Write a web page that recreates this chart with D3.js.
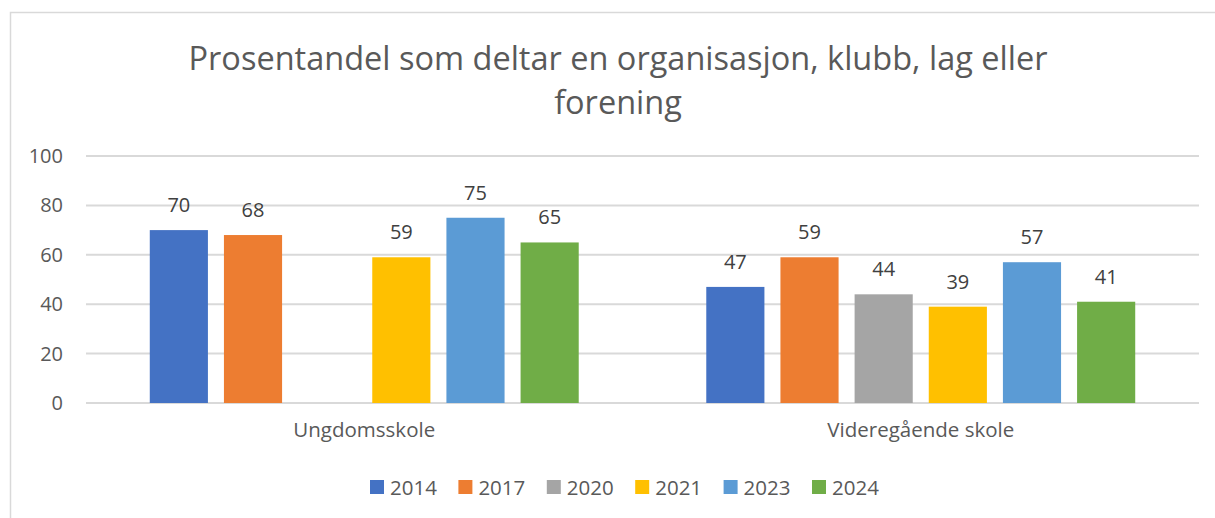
<!DOCTYPE html>
<html>
<head>
<meta charset="utf-8">
<script src="https://cdn.jsdelivr.net/npm/d3@7"></script>
<style>
  body { margin: 0; background: #fff; }
  text { font-family: "Open Sans", "Noto Sans", sans-serif; }
</style>
</head>
<body>
<svg id="chart" width="1215" height="518"></svg>
<script>
// data
var titleLines = ["Prosentandel som deltar en organisasjon, klubb, lag eller", "forening"];
var categories = ["Ungdomsskole", "Videregående skole"];
var years = ["2014", "2017", "2020", "2021", "2023", "2024"];
var values2014 = [70, 47];
var values2017 = [68, 59];
var values2020 = [null, 44];
var values2021 = [59, 39];
var values2023 = [75, 57];
var values2024 = [65, 41];
var yTicks = [0, 20, 40, 60, 80, 100];
var colors = ["#4472C4", "#ED7D31", "#A5A5A5", "#FFC000", "#5B9BD5", "#70AD47"];

var seriesValues = [values2014, values2017, values2020, values2021, values2023, values2024];

var svg = d3.select("#chart");

// chart frame (only top/left edge visible)
svg.append("rect")
  .attr("x", 10.5).attr("y", 12.5)
  .attr("width", 1300).attr("height", 600)
  .attr("fill", "#fff")
  .attr("stroke", "#d9d9d9").attr("stroke-width", 1.5);

var plotLeft = 86, plotRight = 1199, plotTop = 156, plotBottom = 403;

var x0 = d3.scaleBand().domain(categories).range([plotLeft, plotRight]);
var x1 = d3.scaleBand().domain(years).range([0, x0.bandwidth()])
  .paddingInner(0.216).paddingOuter(0.86);
var y = d3.scaleLinear().domain([0, 100]).range([plotBottom, plotTop]);

// title
svg.append("text")
  .attr("x", 618).attr("y", 70)
  .attr("text-anchor", "middle")
  .attr("fill", "#595959")
  .style("font-size", "32.5px")
  .selectAll("tspan").data(titleLines).join("tspan")
    .attr("x", 618)
    .attr("dy", function (d, i) { return i === 0 ? 0 : 44; })
    .text(function (d) { return d; });

// gridlines
svg.append("g").selectAll("line").data(yTicks).join("line")
  .attr("x1", plotLeft).attr("x2", plotRight)
  .attr("y1", function (d) { return y(d); })
  .attr("y2", function (d) { return y(d); })
  .attr("stroke", "#d9d9d9").attr("stroke-width", 2);

// y axis labels
var yAxis = d3.axisLeft(y).tickValues(yTicks).tickSize(0).tickPadding(0);
var gy = svg.append("g").attr("transform", "translate(63,0)").call(yAxis);
gy.select(".domain").remove();
gy.selectAll("text").attr("fill", "#595959").style("font-size", "20px")
  .attr("font-family", null);

// x axis labels
var xAxis = d3.axisBottom(x0).tickSize(0).tickPadding(0);
var gx = svg.append("g").attr("transform", "translate(0,422)").call(xAxis);
gx.select(".domain").remove();
gx.selectAll("text").attr("fill", "#595959").style("font-size", "20.5px")
  .attr("font-family", null);

// bars
var groups = svg.append("g").selectAll("g").data(categories).join("g")
  .attr("transform", function (d) { return "translate(" + x0(d) + ",0)"; });

var barData = function (c, ci) {
  return years.map(function (yr, si) {
    return { year: yr, value: seriesValues[si][ci], color: colors[si] };
  }).filter(function (d) { return d.value != null; });
};

groups.selectAll("rect").data(barData).join("rect")
  .attr("x", function (d) { return x1(d.year); })
  .attr("width", x1.bandwidth())
  .attr("y", function (d) { return y(d.value); })
  .attr("height", function (d) { return plotBottom - y(d.value); })
  .attr("fill", function (d) { return d.color; });

groups.selectAll("text.val").data(barData).join("text")
  .attr("class", "val")
  .attr("x", function (d) { return x1(d.year) + x1.bandwidth() / 2; })
  .attr("y", function (d) { return y(d.value) - 18; })
  .attr("text-anchor", "middle")
  .attr("fill", "#404040")
  .style("font-size", "20px")
  .text(function (d) { return d.value; });

// legend
var legend = svg.append("g").selectAll("g").data(years).join("g")
  .attr("transform", function (d, i) { return "translate(" + (370 + i * 88.4) + ",480)"; });
legend.append("rect")
  .attr("width", 14).attr("height", 14)
  .attr("fill", function (d, i) { return colors[i]; });
legend.append("text")
  .attr("x", 20).attr("y", 14.5)
  .attr("fill", "#595959")
  .style("font-size", "20.5px")
  .text(function (d) { return d; });
</script>
</body>
</html>
